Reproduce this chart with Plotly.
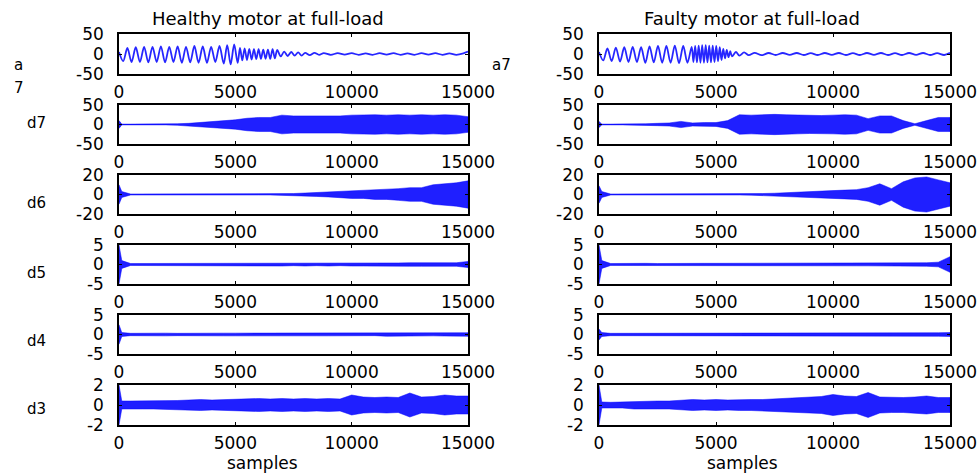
import plotly.graph_objects as go

# ---------------- data ----------------
SAMPLE_GRID = [0, 120, 500, 1000, 1500, 2000, 2500, 3000, 3500, 4000, 4500, 5000,
               5500, 6000, 6500, 7000, 7500, 8000, 8500, 9000, 9500, 10000,
               10500, 11000, 11500, 12000, 12500, 13000, 13500, 14000, 14500, 15000]
X_TICKS = [0, 5000, 10000, 15000]
X_TICK_TEXT = ["0", "5000", "10000", "15000"]

# a7 approximation: extremum positions / values
A7_HEALTHY_POS = [0, 180, 360, 540, 720, 900, 1080, 1260, 1440, 1620, 1800, 1980, 2160, 2340,
                  2520, 2700, 2880, 3060, 3240, 3420, 3600, 3780, 3960, 4140, 4320, 4500,
                  4650, 4800, 4950, 5100, 5200, 5300, 5400, 5500, 5600, 5700, 5800, 5900,
                  6000, 6100, 6200, 6300, 6400, 6500, 6600, 6700, 6800, 6950, 7100, 7250,
                  7400, 7550, 7700, 7850, 8000, 8200, 8400, 8600, 8800, 9100, 9400, 9700,
                  10000, 10300, 10600, 10900, 11200, 11500, 11800, 12100, 12400, 12700,
                  13000, 13300, 13600, 13900, 14200, 14500, 14800, 15000]
A7_HEALTHY_VAL = [5, -18, 15, -20, 17, -20, 18, -21, 18, -20, 19, -21, 18, -20,
                  19, -22, 18, -21, 20, -22, 19, -22, 18, -20, 20, -24,
                  22, -26, 24, -22, 15, -16, 14, -15, 13, -14, 12, -13,
                  12, -12, 11, -12, 11, -12, 12, -11, 10, -6, 6, -5,
                  5, -4, 4, -4, 3, -3, 3, -2, 2, -2, 2, -1.5,
                  2, -2, 1.5, -2, 2, -1.5, 2, -2, 1.5, -2,
                  2, -1.5, 2, -2, 1.5, -2, 1.5, 6]

A7_FAULTY_POS = [0, 180, 360, 540, 720, 900, 1080, 1260, 1440, 1620, 1800, 1980, 2160, 2340,
                 2520, 2700, 2880, 3060, 3240, 3420, 3600, 3780,
                 3960, 4035, 4110, 4185, 4260, 4335, 4410, 4485, 4560, 4635, 4710, 4785,
                 4860, 4935, 5010, 5085, 5160, 5235, 5310, 5385, 5460, 5535, 5610, 5685,
                 5850, 6000, 6200, 6400, 6650,
                 6950, 7250, 7550, 7850, 8150, 8450, 8750, 9050, 9350, 9650, 9950, 10250,
                 10550, 10850, 11150, 11450, 11750, 12050, 12350, 12650, 12950, 13250,
                 13550, 13850, 14150, 14450, 14750, 15000]
A7_FAULTY_VAL = [5, -16, 14, -18, 16, -19, 17, -20, 18, -20, 17, -22, 19, -21,
                 20, -22, 20, -22, 21, -23, 20, -22,
                 18, -20, 20, -21, 21, -22, 22, -22, 22, -21, 21, -21,
                 21, -20, 20, -18, 17, -15, 13, -11, 10, -8, 7, -6,
                 5, -4, 4, -3, 3,
                 -3, 2.5, -2.5, 2.5, -2, 2.5, -2.5, 2, -2.5, 2.5, -2, 2.5,
                 -2.5, 2, -2.5, 2.5, -2, 2.5, -2.5, 2, -2.5, 2.5,
                 -2, 2.5, -2.5, 2, -2.5, 3]

# detail envelopes (amplitude at SAMPLE_GRID)
D7_HEALTHY = [10, 1, 1, 1, 1, 1, 2, 3, 5, 8, 10, 12, 16, 18, 18, 24, 22, 22, 22, 22, 22, 24,
              25, 25, 24, 25, 24, 25, 24, 25, 24, 20]
D7_FAULTY = [8, 1, 1, 1, 1, 2, 3, 4, 8, 4, 5, 5, 10, 25, 24, 25, 26, 25, 24, 23, 23, 24,
             25, 24, 15, 22, 22, 10, 2, 10, 18, 18]
D6_HEALTHY = [10, 3, 0.5, 0.5, 0.5, 0.5, 0.5, 0.5, 0.5, 0.5, 0.5, 0.5, 0.5, 0.5, 0.5, 0.5,
              1, 1.5, 2, 2.5, 3, 4, 4, 5, 5, 6, 7, 7, 10, 11, 12, 14]
D6_FAULTY = [9, 3, 0.5, 0.5, 0.5, 0.5, 0.5, 0.5, 0.5, 0.5, 0.5, 0.5, 0.5, 0.5,
             0.7, 1, 1.3, 1.7, 2.2, 2.7, 3.3, 4, 4.5, 5, 7, 11, 6, 13, 17, 18, 15, 12]
D5_HEALTHY = [5, 1, 0.25, 0.25, 0.3, 0.25, 0.25, 0.3, 0.4, 0.3, 0.4, 0.3, 0.4, 0.3, 0.4, 0.4,
              0.3, 0.4, 0.3, 0.4, 0.3, 0.4, 0.4, 0.4, 0.4, 0.4, 0.45, 0.45, 0.45, 0.5, 0.45, 0.8]
D5_FAULTY = [5, 1, 0.25, 0.3, 0.3, 0.3, 0.25, 0.3, 0.3, 0.3, 0.3, 0.3, 0.3, 0.35, 0.35, 0.3,
             0.35, 0.35, 0.35, 0.35, 0.35, 0.35, 0.35, 0.35, 0.35, 0.4, 0.35, 0.35, 0.4, 0.45, 0.6, 2.0]
D4_HEALTHY = [2.5, 0.5, 0.3, 0.35, 0.3, 0.35, 0.3, 0.35, 0.35, 0.3, 0.35, 0.35, 0.35, 0.3, 0.35,
              0.35, 0.35, 0.3, 0.35, 0.35, 0.35, 0.35, 0.35, 0.3, 0.45, 0.35, 0.35, 0.4, 0.35, 0.4, 0.35, 0.45]
D4_FAULTY = [1.4, 0.5, 0.3, 0.3, 0.35, 0.3, 0.35, 0.35, 0.3, 0.35, 0.35, 0.3, 0.35, 0.35, 0.35,
             0.3, 0.35, 0.35, 0.3, 0.35, 0.35, 0.3, 0.4, 0.45, 0.4, 0.4, 0.45, 0.4, 0.4, 0.45, 0.45, 0.5]
D3_HEALTHY = [2, 0.4, 0.4, 0.4, 0.4, 0.45, 0.45, 0.5, 0.55, 0.5, 0.55, 0.6, 0.6, 0.65, 0.6,
              0.65, 0.6, 0.65, 0.6, 0.65, 0.6, 1.0, 0.8, 0.75, 0.8, 0.75, 1.2, 0.8, 0.85, 1.0, 0.9, 0.9]
D3_FAULTY = [2, 0.3, 0.27, 0.3, 0.4, 0.4, 0.4, 0.4, 0.45, 0.55, 0.5, 0.55, 0.5, 0.55, 0.55,
             0.55, 0.6, 0.65, 0.7, 0.8, 0.85, 1.05, 0.9, 0.85, 1.25, 0.8, 0.75, 0.75, 0.8, 0.9, 0.75, 0.75]

ROW_LIMITS = [50, 50, 20, 5, 5, 2]
ROW_LABELS_LEFT = ["a", "d7", "d6", "d5", "d4", "d3"]
TITLES = ["Healthy motor at full-load", "Faulty motor at full-load"]
X_TITLE = "samples"

DETAILS = [(D7_HEALTHY, D7_FAULTY), (D6_HEALTHY, D6_FAULTY), (D5_HEALTHY, D5_FAULTY),
           (D4_HEALTHY, D4_FAULTY), (D3_HEALTHY, D3_FAULTY)]
A7 = [(A7_HEALTHY_POS, A7_HEALTHY_VAL), (A7_FAULTY_POS, A7_FAULTY_VAL)]

# ---------------- layout ----------------
W, H = 979, 474
FONT = "DejaVu Sans"
COL_X = [(119, 468), (599, 950)]
ROW_Y = [(34, 74), (105, 144), (175, 214), (245, 284), (315, 354), (385, 425)]
BLUE_LINE = "rgba(0,0,255,0.85)"
BLUE_FILL = "rgba(0,0,255,0.88)"


def px(x):
    return x / W


def py(y):
    return 1 - y / H


fig = go.Figure()
layout = {}
n = 0
for r in range(6):
    for c in range(2):
        n += 1
        xa = "x" if n == 1 else f"x{n}"
        ya = "y" if n == 1 else f"y{n}"
        if r == 0:
            pos, val = A7[c]
            fig.add_trace(go.Scatter(x=pos, y=val, mode="lines",
                                     line=dict(color=BLUE_LINE, width=1.8, shape="spline", smoothing=0.9),
                                     xaxis=xa, yaxis=ya, hoverinfo="skip", showlegend=False))
        else:
            env = DETAILS[r - 1][c]
            xs = list(SAMPLE_GRID) + list(SAMPLE_GRID[::-1])
            ys = list(env) + [-v for v in env[::-1]]
            fig.add_trace(go.Scatter(x=xs, y=ys, mode="lines", fill="toself",
                                     fillcolor=BLUE_FILL,
                                     line=dict(color="rgba(0,0,255,0.55)", width=0.9),
                                     xaxis=xa, yaxis=ya, hoverinfo="skip", showlegend=False))
        lim = ROW_LIMITS[r]
        x0, x1 = COL_X[c]
        yt, yb = ROW_Y[r]
        xkey = "xaxis" if n == 1 else f"xaxis{n}"
        ykey = "yaxis" if n == 1 else f"yaxis{n}"
        layout[xkey] = dict(domain=[px(x0), px(x1)], anchor=ya, range=[0, 15000],
                            tickvals=X_TICKS, ticktext=X_TICK_TEXT, automargin=False,
                            ticks="inside", ticklen=3, tickwidth=1, tickcolor="black",
                            showline=True, linecolor="black", linewidth=1.5, mirror="ticks",
                            showgrid=False, zeroline=False, ticklabelstandoff=2,
                            tickfont=dict(family=FONT, size=17, color="black"))
        layout[ykey] = dict(domain=[py(yb), py(yt)], anchor=xa, range=[-lim, lim],
                            tickvals=[-lim, 0, lim], ticktext=[f"-{lim}", "0", f"{lim}"],
                            automargin=False,
                            ticks="inside", ticklen=3, tickwidth=1, tickcolor="black",
                            showline=True, linecolor="black", linewidth=1.5, mirror="ticks",
                            showgrid=False, zeroline=False, ticklabelstandoff=10,
                            tickfont=dict(family=FONT, size=17, color="black"))

annotations = []


def add_text(text, x, y, size, xanchor="center"):
    annotations.append(dict(text=text, x=px(x), y=py(y), xref="paper", yref="paper",
                            xanchor=xanchor, yanchor="middle", showarrow=False,
                            font=dict(family=FONT, size=size, color="black")))


add_text(TITLES[0], 268, 19, 18)
add_text(TITLES[1], 752, 19, 18)
add_text(X_TITLE, 262, 463, 17)
add_text(X_TITLE, 742, 463, 17)
LABEL_Y = [65, 123, 203, 273, 341, 409]
for r, lab in enumerate(ROW_LABELS_LEFT):
    add_text(lab, 12 if r == 0 else 25, LABEL_Y[r], 15, xanchor="left")
add_text("7", 12, 88, 15, xanchor="left")
add_text("a7", 490, 65, 15, xanchor="left")

fig.update_layout(width=W, height=H,
                  margin=dict(l=0, r=0, t=0, b=0, pad=0, autoexpand=False),
                  paper_bgcolor="white", plot_bgcolor="white",
                  showlegend=False, annotations=annotations, **layout)
fig.write_html("out.html", config={"displayModeBar": False})
